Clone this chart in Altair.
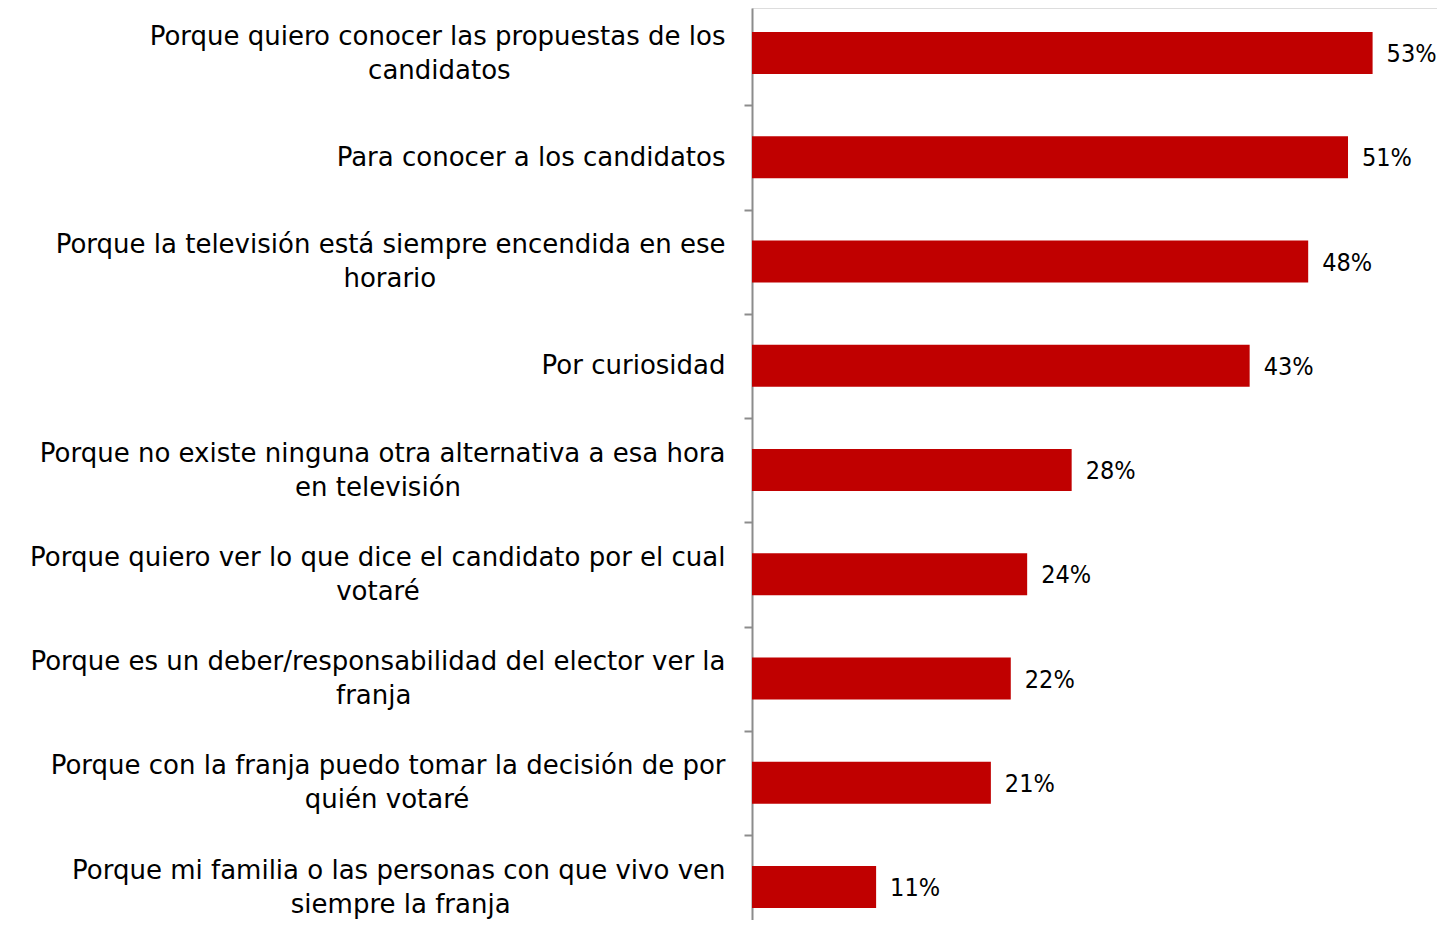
import altair as alt
import pandas as pd

# Category labels: (first line, second line)
line1 = [
    "Porque quiero conocer las propuestas de los",
    "Para conocer a los candidatos",
    "Porque la televisión está siempre encendida en ese",
    "Por curiosidad",
    "Porque no existe ninguna otra alternativa a esa hora",
    "Porque quiero ver lo que dice el candidato por el cual",
    "Porque es un deber/responsabilidad del elector ver la",
    "Porque con la franja puedo tomar la decisión de por",
    "Porque mi familia o las personas con que vivo ven",
]
line2 = [
    "candidatos",
    "",
    "horario",
    "",
    "en televisión",
    "votaré",
    "franja",
    "quién votaré",
    "siempre la franja",
]
values = [53.0, 50.9, 47.5, 42.5, 27.3, 23.5, 22.1, 20.4, 10.6]
value_labels = ["53%", "51%", "48%", "43%", "28%", "24%", "22%", "21%", "11%"]

# approximate DejaVu Sans advance widths (em) used to centre the second line
W = {" ": 0.318, "a": 0.613, "b": 0.635, "c": 0.55, "d": 0.635, "e": 0.615,
     "f": 0.352, "g": 0.635, "h": 0.634, "i": 0.278, "j": 0.278, "k": 0.579,
     "l": 0.278, "m": 0.974, "n": 0.634, "o": 0.612, "p": 0.635, "q": 0.635,
     "r": 0.411, "s": 0.521, "t": 0.392, "u": 0.634, "v": 0.592, "w": 0.818,
     "x": 0.592, "y": 0.592, "z": 0.525, "P": 0.603, "/": 0.337,
     "á": 0.613, "é": 0.615, "í": 0.278, "ó": 0.612, "ú": 0.634}


def tw(s):
    return sum(W.get(ch, 0.6) for ch in s)


labels = []
for a, b in zip(line1, line2):
    if b:
        pad = round((tw(a) - tw(b)) / 2 / 0.318)
        # non-breaking spaces closed by a word joiner so they are not trimmed
        labels.append(a + "\n" + b + "\u00a0" * pad + "\u2060")
    else:
        labels.append(a)

df = pd.DataFrame({"cat": labels, "value": values, "label": value_labels})

FONT = "DejaVu Sans"
NUM_FONT = "DejaVu Sans Condensed, Liberation Sans Narrow, DejaVu Sans"

y_axis = alt.Axis(
    title=None,
    labelExpr="split(datum.label, '\\n')",
    labelFont=FONT,
    labelFontSize=26,
    labelColor="#000000",
    labelLineHeight=34,
    labelAlign="right",
    labelBaseline="middle",
    labelPadding=19,
    labelLimit=1000,
    tickSize=8,
    tickWidth=2,
    tickColor="#8c8c8c",
    tickOffset=-52,
    labelOffset={
        "condition": {"test": "indexof(datum.value, '\\n') >= 0", "value": 35},
        "value": 52,
    },
    domainColor="#8c8c8c",
    domainWidth=2,
    grid=False,
)

y_enc = alt.Y(
    "cat:N",
    sort=None,
    scale=alt.Scale(paddingInner=0.597, paddingOuter=0.1727, align=0.667),
    axis=y_axis,
)

x_enc = alt.X(
    "value:Q",
    scale=alt.Scale(domain=[0, 58.5], nice=False),
    axis=None,
)

base = alt.Chart(df).encode(x=x_enc, y=y_enc)

bars = base.mark_bar(color="#C00000")

text = base.mark_text(
    align="left", baseline="middle", dx=14, dy=1, font=NUM_FONT, fontSize=25, color="#000000"
).encode(text="label:N")

chart = (
    alt.layer(bars, text)
    .properties(
        width=685,
        height=912,
        autosize=alt.AutoSizeParams(type="none"),
        padding={"left": 744, "top": 0, "right": 0, "bottom": 0},
    )
    .configure_view(strokeWidth=0, strokeOpacity=0)
    .configure_axis(gridOpacity=0)
    .configure(background="#ffffff")
)

chart.save("out.html", embed_options={"renderer": "svg", "actions": False})
